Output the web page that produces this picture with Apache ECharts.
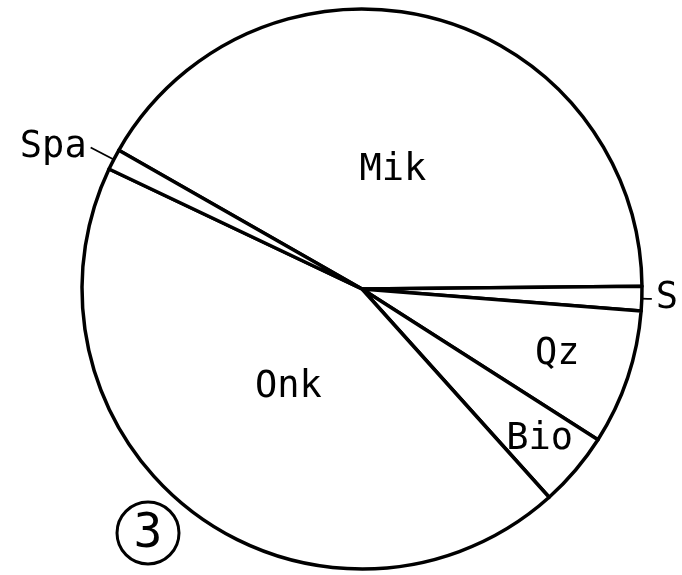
<!DOCTYPE html>
<html>
<head>
<meta charset="utf-8">
<script src="https://cdn.jsdelivr.net/npm/echarts@6/dist/echarts.min.js"></script>
<style>
  html, body { margin: 0; padding: 0; background: #fff; }
  #chart { width: 682px; height: 575px; }
</style>
</head>
<body>
<div id="chart"></div>
<script>
var names = ["Mik", "S", "Qz", "Bio", "Onk", "Spa"];
var values = [41.6, 1.4, 7.8, 4.3, 43.7, 1.2];
var figNumber = "3";

var font = "DejaVu Sans Mono";

function items(show, extra) {
  return names.map(function (n, i) {
    var d = { name: n, value: values[i], label: { show: show.indexOf(n) >= 0 } };
    if (extra && extra[n]) Object.assign(d, extra[n]);
    return d;
  });
}

// transparent ring, only used to put inside labels at a given distance
function labelRing(show, radius) {
  return {
    type: "pie",
    center: [362, 289],
    radius: radius,
    startAngle: 150.3,
    clockwise: true,
    silent: true,
    avoidLabelOverlap: false,
    itemStyle: { color: "transparent", borderWidth: 0 },
    label: {
      position: "inside",
      color: "#000",
      fontFamily: font,
      fontSize: 37
    },
    labelLine: { show: false },
    emphasis: { disabled: true },
    data: items(show)
  };
}

var myChart = echarts.init(document.getElementById("chart"));
var option = {
  animation: false,
  backgroundColor: "#fff",
  series: [
    {
      type: "pie",
      center: [362, 289],
      radius: [0, 280],
      startAngle: 150.3,
      clockwise: true,
      silent: true,
      avoidLabelOverlap: false,
      itemStyle: { color: "#fff", borderColor: "#000", borderWidth: 3.5 },
      label: {
        position: "outside",
        color: "#000",
        fontFamily: font,
        fontSize: 37,
        distanceToLabelLine: 4
      },
      labelLine: { lineStyle: { color: "#000", width: 1.8 } },
      emphasis: { disabled: true },
      data: items(["S", "Spa"], {
        S: { labelLine: { length: 6, length2: 4 } },
        Spa: { labelLine: { length: 26, length2: 0 }, label: { show: true, padding: [0, 0, 18, 0] } }
      })
    },
    labelRing(["Mik", "Onk"], [0, 240]),
    labelRing(["Qz"], [160, 246]),
    labelRing(["Bio"], [190, 270])
  ],
  graphic: [
    {
      type: "circle",
      shape: { cx: 148, cy: 533, r: 31 },
      style: { fill: "none", stroke: "#000", lineWidth: 3 }
    },
    {
      type: "text",
      x: 148,
      y: 535,
      style: {
        text: figNumber,
        fontFamily: font,
        fontSize: 48,
        fill: "#000",
        align: "center",
        verticalAlign: "middle"
      }
    }
  ]
};
option && myChart.setOption(option);
</script>
</body>
</html>
